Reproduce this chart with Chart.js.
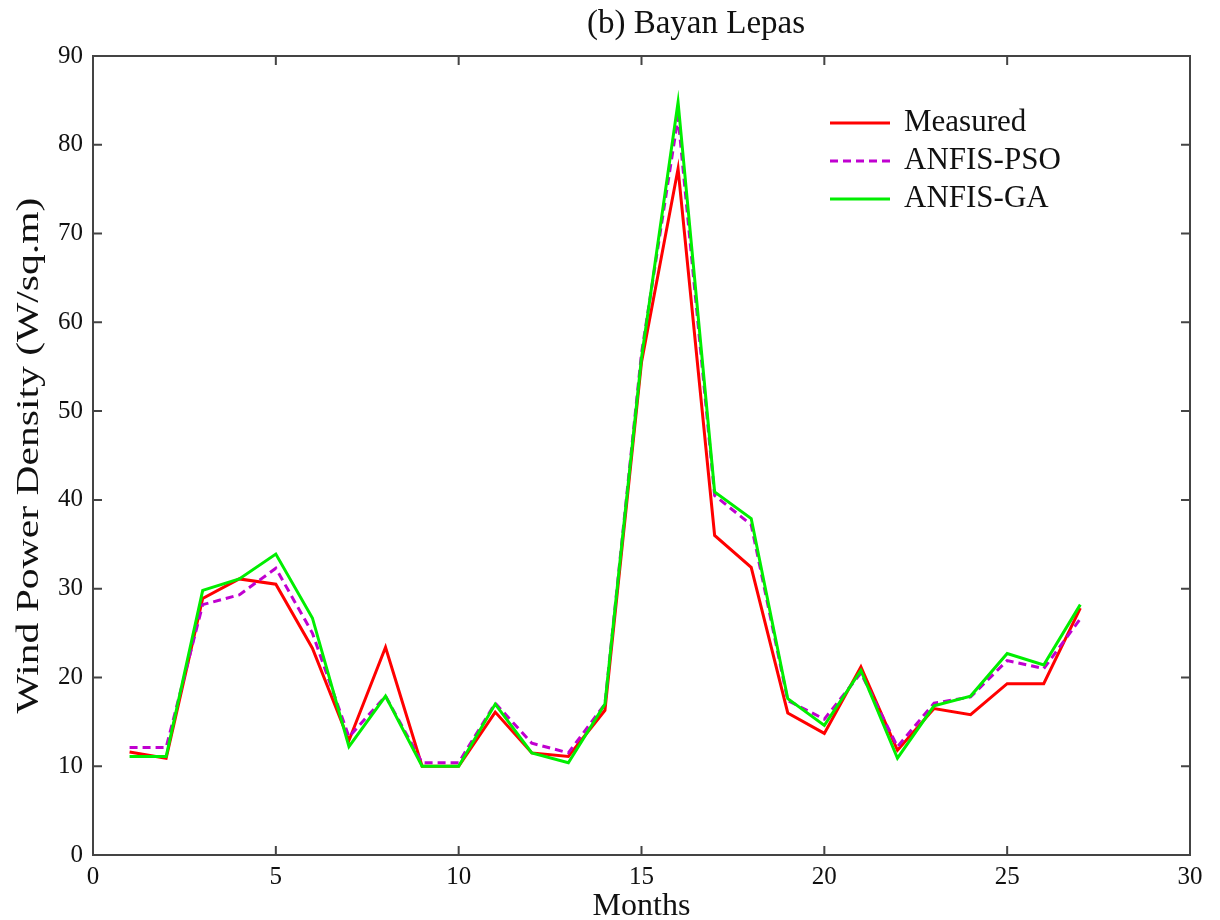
<!DOCTYPE html>
<html>
<head>
<meta charset="utf-8">
<script src="https://cdn.jsdelivr.net/npm/chart.js@4"></script>
<style>
  body { margin: 0; background: #fff; }
  #wrap { width: 1220px; height: 920px; }
</style>
</head>
<body>
<div id="wrap"><canvas id="myChart" width="1220" height="920"></canvas></div>
<script>
const months = [1, 2, 3, 4, 5, 6, 7, 8, 9, 10, 11, 12, 13, 14, 15, 16, 17, 18, 19, 20, 21, 22, 23, 24, 25, 26, 27];
const measured = [11.6, 10.9, 28.9, 31.1, 30.5, 23.3, 12.9, 23.4, 10.0, 10.0, 16.1, 11.5, 11.1, 16.3, 55.5, 77.3, 36.0, 32.4, 16.0, 13.7, 21.2, 11.8, 16.5, 15.8, 19.3, 19.3, 27.8];
const anfisPso = [12.1, 12.1, 28.2, 29.3, 32.3, 25.0, 13.3, 17.9, 10.4, 10.4, 17.1, 12.6, 11.5, 17.0, 56.5, 83.1, 40.5, 37.2, 17.4, 15.3, 20.5, 12.2, 17.1, 17.8, 21.9, 21.0, 26.6];
const anfisGa = [11.1, 11.1, 29.8, 31.1, 33.9, 26.7, 12.2, 17.9, 10.0, 10.0, 17.0, 11.5, 10.4, 17.0, 56.0, 84.8, 40.9, 37.9, 17.6, 14.6, 20.8, 10.9, 16.8, 17.9, 22.7, 21.4, 28.2];
const seriesNames = ['Measured', 'ANFIS-PSO', 'ANFIS-GA'];
const xTicks = [0, 5, 10, 15, 20, 25, 30];
const yTicks = [0, 10, 20, 30, 40, 50, 60, 70, 80, 90];

const serif = '"Liberation Serif", "DejaVu Serif", serif';
const textColor = '#111';
const axisColor = '#444';

function pts(vals) {
    return months.map((m, i) => ({ x: m, y: vals[i] }));
}

// matlab style box, inward ticks, legend, title and y label
const boxPlugin = {
    id: 'box',
    afterDraw(chart) {
        const ctx = chart.ctx;
        const a = chart.chartArea;
        const xs = chart.scales.x, ys = chart.scales.y;
        ctx.save();
        ctx.strokeStyle = axisColor;
        ctx.lineWidth = 2;
        ctx.strokeRect(a.left, a.top, a.right - a.left, a.bottom - a.top);
        ctx.beginPath();
        xTicks.forEach(v => {
            const px = xs.getPixelForValue(v);
            ctx.moveTo(px, a.bottom); ctx.lineTo(px, a.bottom - 9);
            ctx.moveTo(px, a.top); ctx.lineTo(px, a.top + 9);
        });
        yTicks.forEach(v => {
            const py = ys.getPixelForValue(v);
            ctx.moveTo(a.left, py); ctx.lineTo(a.left + 9, py);
            ctx.moveTo(a.right, py); ctx.lineTo(a.right - 9, py);
        });
        ctx.stroke();

        // title
        ctx.fillStyle = textColor;
        ctx.font = '33px ' + serif;
        ctx.textAlign = 'center';
        ctx.textBaseline = 'middle';
        ctx.fillText('(b) Bayan Lepas', 696, 24);

        // y axis label (stretched along the text like the original)
        ctx.save();
        ctx.translate(30, (a.top + a.bottom) / 2);
        ctx.rotate(-Math.PI / 2);
        ctx.scale(1.3, 1);
        ctx.font = '32px ' + serif;
        ctx.fillText('Wind Power Density (W/sq.m)', 0, 0);
        ctx.restore();

        // legend
        const rows = [123, 161, 199];
        chart.data.datasets.forEach((ds, i) => {
            ctx.beginPath();
            ctx.strokeStyle = ds.borderColor;
            ctx.lineWidth = ds.borderWidth;
            ctx.setLineDash(ds.borderDash || []);
            ctx.moveTo(830, rows[i]);
            ctx.lineTo(890, rows[i]);
            ctx.stroke();
            ctx.setLineDash([]);
            ctx.fillStyle = textColor;
            ctx.textAlign = 'left';
            ctx.font = '31px ' + serif;
            ctx.fillText(ds.label, 904, rows[i]);
        });
        ctx.restore();
    }
};

const ctx = document.getElementById('myChart');
new Chart(ctx, {
    type: 'line',
    data: {
        datasets: [
            { label: seriesNames[0], data: pts(measured), borderColor: '#ff0000', borderWidth: 3, order: 3 },
            { label: seriesNames[1], data: pts(anfisPso), borderColor: '#c000d0', borderWidth: 3, borderDash: [8, 5], order: 2 },
            { label: seriesNames[2], data: pts(anfisGa), borderColor: '#00ee00', borderWidth: 3, order: 1 }
        ]
    },
    options: {
        responsive: false,
        animation: false,
        layout: { padding: { top: 56, right: 30, left: 0, bottom: 0 } },
        elements: { point: { radius: 0 }, line: { tension: 0 } },
        plugins: { legend: { display: false }, tooltip: { enabled: false }, title: { display: false } },
        scales: {
            x: {
                type: 'linear', min: 0, max: 30,
                afterFit(s) { s.height = 65; },
                afterBuildTicks(s) { s.ticks = xTicks.map(v => ({ value: v })); },
                ticks: { font: { size: 25, family: serif }, color: textColor, padding: 7, maxRotation: 0 },
                grid: { display: false, drawTicks: false },
                border: { display: false },
                title: { display: true, text: 'Months', font: { size: 32, family: serif, lineHeight: 1 }, color: textColor, padding: { top: 0, bottom: -3 } }
            },
            y: {
                type: 'linear', min: 0, max: 90,
                afterFit(s) { s.width = 93; },
                afterBuildTicks(s) { s.ticks = yTicks.map(v => ({ value: v })); },
                ticks: { font: { size: 25, family: serif }, color: textColor, padding: 10 },
                grid: { display: false, drawTicks: false },
                border: { display: false }
            }
        }
    },
    plugins: [boxPlugin]
});
</script>
</body>
</html>
